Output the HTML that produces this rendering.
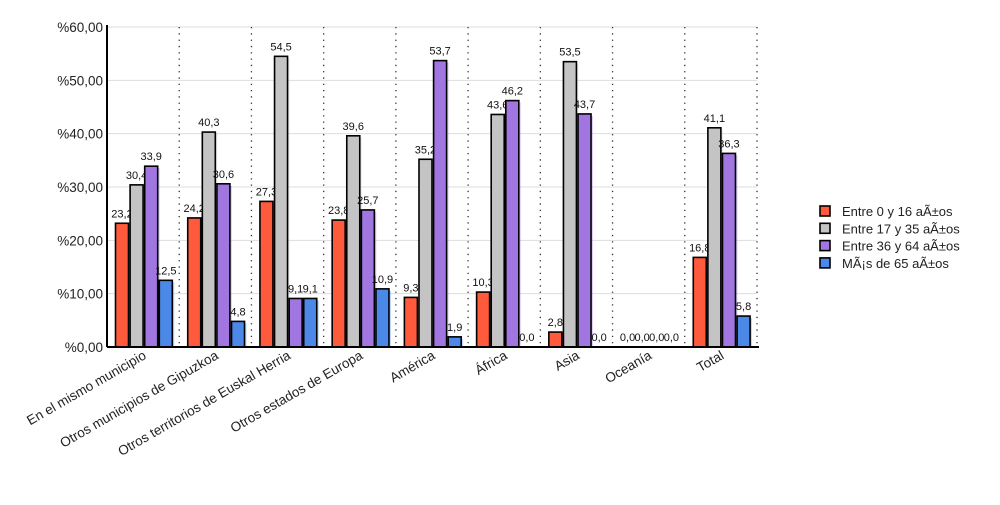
<!DOCTYPE html>
<html><head><meta charset="utf-8"><style>
body{margin:0;background:#fff;width:1000px;height:500px;overflow:hidden}
text{font-family:"Liberation Sans",sans-serif}
</style></head><body>
<svg id="s" width="1000" height="500" xmlns="http://www.w3.org/2000/svg"></svg>
<script>
const s=document.getElementById('s');
let h='';
const X0=107,W=650,Y0=347,PX=320/60;
const cats=["En el mismo municipio","Otros municipios de Gipuzkoa","Otros territorios de Euskal Herria","Otros estados de Europa","América","África","Asia","Oceanía","Total"];
const data=[
["23,2","30,4","33,9","12,5"],["24,2","40,3","30,6","4,8"],["27,3","54,5","9,1","9,1"],["23,8","39,6","25,7","10,9"],
["9,3","35,2","53,7","1,9"],["10,3","43,6","46,2","0,0"],["2,8","53,5","43,7","0,0"],["0,0","0,0","0,0","0,0"],["16,8","41,1","36,3","5,8"]];
const cols=["#ff5a3c","#c4c4c4","#a276e0","#4b88e8"];
for(let v=0;v<=60;v+=10){const y=Y0-v*PX;
 if(v>0)h+=`<line x1="${X0}" x2="${X0+W}" y1="${y}" y2="${y}" stroke="#ddd" stroke-width="1"/>`;
 h+=`<text x="103" y="${y+5}" text-anchor="end" font-size="13.5" fill="#222">%${v},00</text>`;}
const cw=W/9;
for(let i=1;i<=9;i++){const x=X0+i*cw;h+=`<line x1="${x}" x2="${x}" y1="27" y2="${Y0}" stroke="#333" stroke-width="1.3" stroke-dasharray="1.3,5"/>`;}
data.forEach((d,i)=>{const cl=X0+i*cw;
 d.forEach((v,j)=>{const val=parseFloat(v.replace(',','.'));const x=cl+8.5+j*14.6;const bh=val*PX;const y=Y0-bh;
  if(bh>0){h+=`<rect x="${x+2}" y="${y+2}" width="13" height="${bh-1}" fill="${cols[j]}" opacity="0.35"/>`;
  h+=`<rect x="${x}" y="${y}" width="13" height="${bh}" fill="${cols[j]}" stroke="#000" stroke-width="1.6"/>`;}
  h+=`<text x="${x+6.5}" y="${y-6}" text-anchor="middle" font-size="11" fill="#111">${v}</text>`;});
 const cx=cl+cw/2+4;
 h+=`<text x="${cx}" y="358" text-anchor="end" font-size="13.5" fill="#222" transform="rotate(-30 ${cx} 358)">${cats[i]}</text>`;});
h+=`<line x1="${X0}" x2="${X0}" y1="25" y2="${Y0}" stroke="#000" stroke-width="2"/>`;
h+=`<line x1="${X0}" x2="${X0+W+2}" y1="${Y0}" y2="${Y0}" stroke="#000" stroke-width="2"/>`;
const lg=["Entre 0 y 16 aÃ±os","Entre 17 y 35 aÃ±os","Entre 36 y 64 aÃ±os","MÃ¡s de 65 aÃ±os"];
lg.forEach((t,j)=>{const y=206+j*17.3;
 h+=`<rect x="820" y="${y}" width="10" height="10" fill="${cols[j]}" stroke="#000" stroke-width="1.6"/>`;
 h+=`<text x="842" y="${y+10}" font-size="13" fill="#222">${t}</text>`;});
s.innerHTML=h;
</script>
</body></html>
